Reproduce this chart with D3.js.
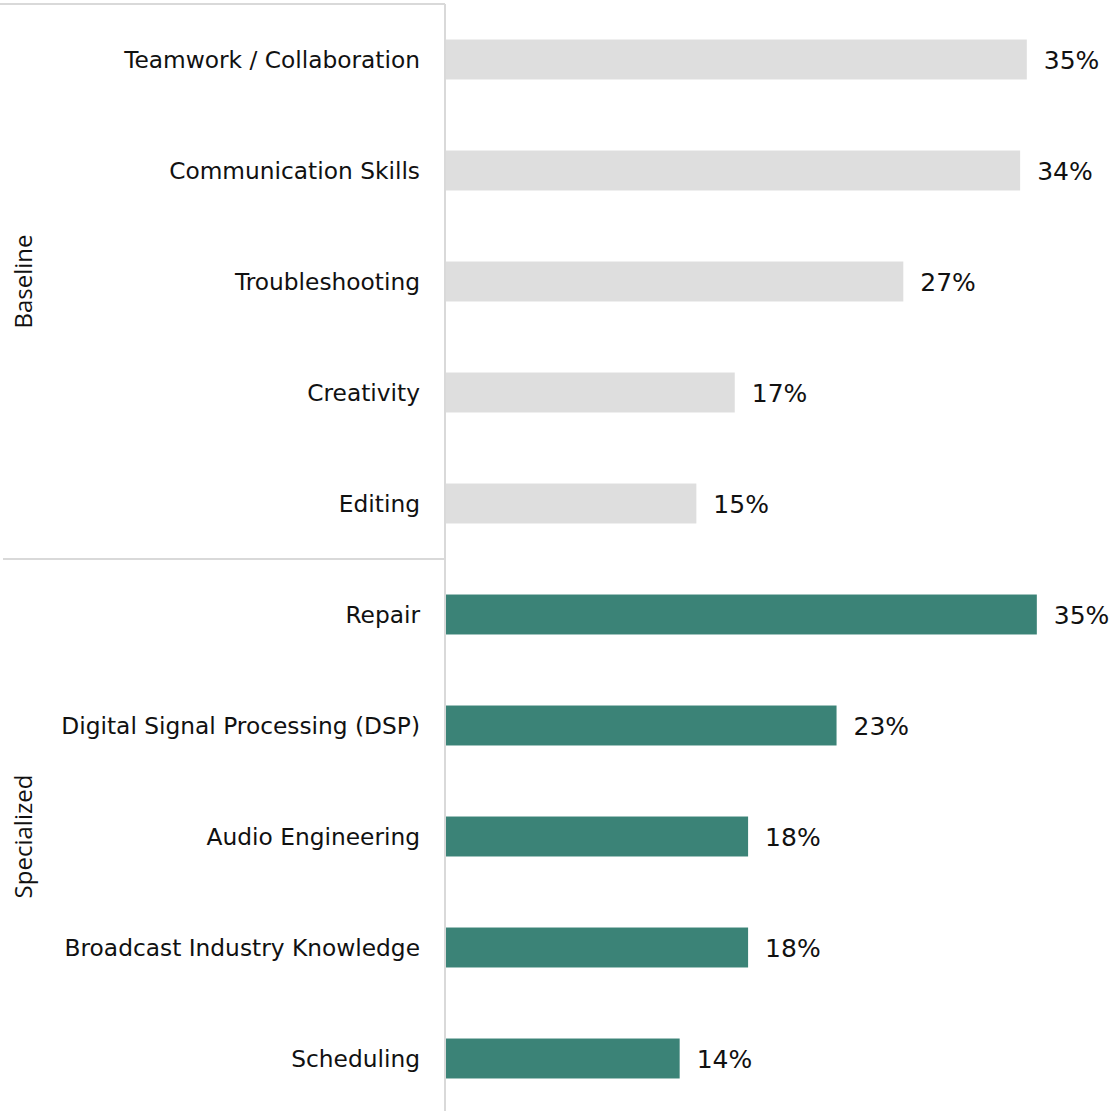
<!DOCTYPE html>
<html><head><meta charset="utf-8">
<script src="https://cdn.jsdelivr.net/npm/d3@7"></script>
<style>body{margin:0;background:#fff}</style>
</head><body><svg id="c" width="1111" height="1111"></svg>
<script>
const categories = ["Teamwork / Collaboration","Communication Skills","Troubleshooting","Creativity","Editing","Repair","Digital Signal Processing (DSP)","Audio Engineering","Broadcast Industry Knowledge","Scheduling"];
const groups = ["Baseline","Baseline","Baseline","Baseline","Baseline","Specialized","Specialized","Specialized","Specialized","Specialized"];
const values = [34.8, 34.4, 27.4, 17.3, 15.0, 35.4, 23.4, 18.1, 18.1, 14.0];
const groupNames = ["Baseline","Specialized"];
const groupColors = {"Baseline":"#DEDEDE","Specialized":"#3B8377"};

const svg = d3.select("#c");
const axisX = 445, plotTop = 4, plotBottom = 1114;
const x = d3.scaleLinear().domain([0, 40]).range([axisX + 1, axisX + 1 + 40 * 16.69]);
const y = d3.scaleBand().domain(categories).range([plotTop, plotBottom]).paddingInner(0.64).paddingOuter(0.32);
const lineColor = "#D9D9D9";
const labelFont = "'DejaVu Sans', sans-serif";

// bars
svg.selectAll("rect.bar").data(categories).join("rect")
  .attr("class","bar")
  .attr("x", x(0))
  .attr("y", d => y(d))
  .attr("width", (d,i) => x(values[i]) - x(0))
  .attr("height", y.bandwidth())
  .attr("fill", (d,i) => groupColors[groups[i]]);

// value labels
const fmt = v => d3.format(".0f")(v) + "%";
svg.selectAll("text.val").data(categories).join("text")
  .attr("class","val")
  .attr("x", (d,i) => x(values[i]) + 17)
  .attr("y", d => y(d) + y.bandwidth()/2)
  .attr("dy","0.36em")
  .attr("font-family", labelFont)
  .attr("font-size", 25)
  .attr("fill","#111")
  .text((d,i) => fmt(values[i]));

// category labels
svg.selectAll("text.cat").data(categories).join("text")
  .attr("class","cat")
  .attr("x", axisX - 25)
  .attr("y", d => y(d) + y.bandwidth()/2)
  .attr("dy","0.36em")
  .attr("text-anchor","end")
  .attr("font-family", labelFont)
  .attr("font-size", 23.3)
  .attr("fill","#111")
  .text(d => d);

// axis frame
const step = y.step();
const groupExtent = g => {
  const idx = groups.map((v,i)=>v===g?i:-1).filter(i=>i>=0);
  const pad = (step - y.bandwidth())/2;
  return [y(categories[idx[0]]) - pad, y(categories[idx[idx.length-1]]) + y.bandwidth() + pad];
};
svg.append("line").attr("x1", axisX).attr("x2", axisX).attr("y1", plotTop).attr("y2", 1111)
  .attr("stroke", lineColor).attr("stroke-width", 2);
svg.append("line").attr("x1", 0).attr("x2", axisX).attr("y1", plotTop).attr("y2", plotTop)
  .attr("stroke", lineColor).attr("stroke-width", 2);
const sepY = groupExtent("Specialized")[0];
svg.append("line").attr("x1", 3).attr("x2", axisX).attr("y1", sepY).attr("y2", sepY)
  .attr("stroke", lineColor).attr("stroke-width", 2);

// group labels
groupNames.forEach(g => {
  const [a,b] = groupExtent(g);
  const cy = (a+b)/2;
  svg.append("text")
    .attr("transform", `translate(32,${cy}) rotate(-90)`)
    .attr("text-anchor","middle")
    .attr("font-family", "'Open Sans', sans-serif")
    .attr("font-size", 24)
    .attr("fill","#111")
    .text(g);
});
</script></body></html>
